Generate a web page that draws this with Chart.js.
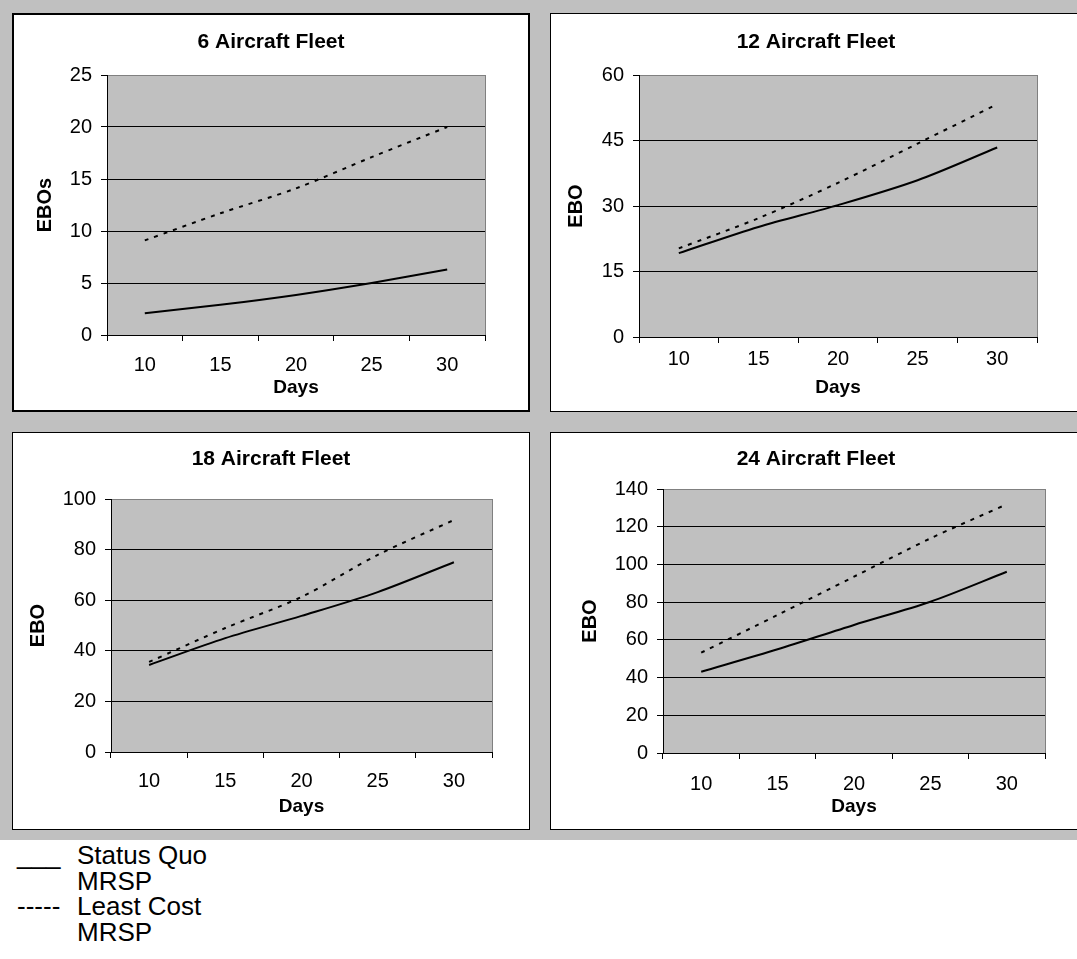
<!DOCTYPE html>
<html>
<head>
  <title>EBO by fleet size</title>
  <script src="https://cdn.jsdelivr.net/npm/chart.js"></script>
  <style>
    body { margin: 0; width: 1077px; height: 959px; overflow: hidden; background: #fff; position: relative;
           font-family: 'Liberation Sans', Arial, sans-serif; }
    #back { position: absolute; left: 0; top: 0; width: 1077px; height: 840px; background: #c0c0c0; }
    .panel { position: absolute; background: #fff; border: 1px solid #000; box-sizing: border-box; }
    .panel canvas { display: block; }
    .legend { position: absolute; top: 843px; font-size: 26px; line-height: 25.5px; color: #000; white-space: pre; }
  </style>
</head>
<body>
  <div id="back"></div>
  <div class="panel" id="p1"><canvas id="c1"></canvas></div>
  <div class="panel" id="p2"><canvas id="c2"></canvas></div>
  <div class="panel" id="p3"><canvas id="c3"></canvas></div>
  <div class="panel" id="p4"><canvas id="c4"></canvas></div>
  <div class="legend" style="left:17px">___

-----</div>
  <div class="legend" style="left:77px">Status Quo
MRSP
Least Cost
MRSP</div>
  <script>
    // data
    const days = ['10', '15', '20', '25', '30'];

    const fleet6StatusQuo  = [2.1, 2.9, 3.85, 5.0, 6.3];
    const fleet6LeastCost  = [9.1, 11.7, 14.1, 17.1, 20.0];
    const fleet12StatusQuo = [19.2, 25.2, 30.2, 35.9, 43.4];
    const fleet12LeastCost = [20.3, 27.2, 35.3, 44.3, 53.3];
    const fleet18StatusQuo = [34.4, 45.0, 53.8, 63.2, 75.0];
    const fleet18LeastCost = [35.6, 49.0, 61.3, 77.9, 91.7];
    const fleet24StatusQuo = [43.1, 55.0, 67.9, 80.2, 96.1];
    const fleet24LeastCost = [53.2, 73.2, 93.5, 113.8, 131.9];

    const ticks6  = [0, 5, 10, 15, 20, 25];
    const ticks12 = [0, 15, 30, 45, 60];
    const ticks18 = [0, 20, 40, 60, 80, 100];
    const ticks24 = [0, 20, 40, 60, 80, 100, 120, 140];

    Chart.defaults.font.family = "'Liberation Sans', Arial, sans-serif";
    Chart.defaults.color = '#000';

    const plotBg = {
      id: 'plotBg',
      beforeDraw(chart) {
        const a = chart.chartArea, ctx = chart.ctx;
        ctx.save();
        ctx.fillStyle = '#c0c0c0';
        ctx.fillRect(a.left, a.top, a.right - a.left, a.bottom - a.top);
        ctx.restore();
      }
    };

    function makeChart(n, title, yTitle, sq, lc, yTicks, box) {
      const panel = document.getElementById('p' + n);
      panel.style.left = box.left + 'px';
      panel.style.top = box.top + 'px';
      panel.style.width = box.w + 'px';
      panel.style.height = box.h + 'px';
      panel.style.borderWidth = box.border + 'px';

      const x0 = box.left + box.border, y0 = box.top + box.border;
      const cw = box.w - 2 * box.border, ch = box.h - 2 * box.border;
      const [L, T, R, B] = box.plot;
      const leftW = L - x0, topH = T - y0, rightW = cw - (R - x0), bottomH = ch - (B - y0);
      const titleTop = box.titleY - y0 - 12.6;
      const yMax = yTicks[yTicks.length - 1];

      const canvas = document.getElementById('c' + n);
      canvas.width = cw;
      canvas.height = ch;

      return new Chart(canvas, {
        type: 'line',
        data: {
          labels: days,
          datasets: [
            { label: 'Status Quo MRSP', data: sq, borderColor: '#000', borderWidth: 2, pointRadius: 0, tension: 0.3, xAxisID: 'x', yAxisID: 'y' },
            { label: 'Least Cost MRSP', data: lc, borderColor: '#000', borderWidth: 2, borderDash: [4, 6], pointRadius: 0, tension: 0.3, xAxisID: 'x', yAxisID: 'y' }
          ]
        },
        options: {
          responsive: false,
          animation: false,
          layout: { padding: 0 },
          plugins: {
            legend: { display: false },
            tooltip: { enabled: false },
            title: {
              display: true,
              text: title,
              font: { size: 21, weight: 'bold' },
              padding: { top: titleTop, bottom: topH - titleTop - 25.2 }
            }
          },
          scales: {
            x: {
              type: 'category',
              offset: true,
              grid: {
                offset: true,
                color: ctx => ctx.type === 'scale' ? '#808080' : 'rgba(0,0,0,0)',
                tickColor: '#000',
                tickLength: 6
              },
              border: { color: '#000', width: 1 },
              ticks: { font: { size: 20 }, padding: box.tickGap - 18, maxRotation: 0, autoSkip: false },
              title: {
                display: true,
                text: 'Days',
                font: { size: 19, weight: 'bold' },
                padding: { top: 0, bottom: ch - (box.daysY - y0) - 11.4 }
              },
              afterFit(s) { s.height = bottomH; }
            },
            y: {
              type: 'linear',
              position: 'left',
              min: 0,
              max: yMax,
              grid: {
                color: ctx => (ctx.tick && ctx.tick.value === yMax) ? '#808080' : '#000',
                tickColor: '#000',
                tickLength: 6
              },
              border: { color: '#000', width: 1 },
              ticks: { font: { size: 20 }, padding: 9, stepSize: yTicks[1] - yTicks[0] },
              title: {
                display: true,
                text: yTitle,
                font: { size: 20, weight: 'bold' },
                padding: { top: box.yTitleX - x0 - 12, bottom: 0 }
              },
              afterFit(s) { s.width = leftW; }
            },
            yr: {
              type: 'linear',
              position: 'right',
              grid: { display: false },
              border: { display: false },
              ticks: { display: false },
              afterFit(s) { s.width = rightW; }
            }
          }
        },
        plugins: [plotBg]
      });
    }

    makeChart(1, '6 Aircraft Fleet', 'EBOs', fleet6StatusQuo, fleet6LeastCost, ticks6,
      { left: 12, top: 13, w: 518, h: 399, border: 2, plot: [107, 75, 485, 335], titleY: 42, yTitleX: 45, tickGap: 30.5, daysY: 388 });
    makeChart(2, '12 Aircraft Fleet', 'EBO', fleet12StatusQuo, fleet12LeastCost, ticks12,
      { left: 550, top: 13, w: 532, h: 399, border: 1, plot: [639, 75, 1037, 337], titleY: 42, yTitleX: 576, tickGap: 22.5, daysY: 388 });
    makeChart(3, '18 Aircraft Fleet', 'EBO', fleet18StatusQuo, fleet18LeastCost, ticks18,
      { left: 12, top: 432, w: 518, h: 398, border: 1, plot: [111, 499, 492, 752], titleY: 459, yTitleX: 38, tickGap: 29.5, daysY: 806.5 });
    makeChart(4, '24 Aircraft Fleet', 'EBO', fleet24StatusQuo, fleet24LeastCost, ticks24,
      { left: 550, top: 432, w: 532, h: 398, border: 1, plot: [663, 489, 1045, 753], titleY: 459, yTitleX: 590, tickGap: 31.5, daysY: 806.5 });
  </script>
</body>
</html>
